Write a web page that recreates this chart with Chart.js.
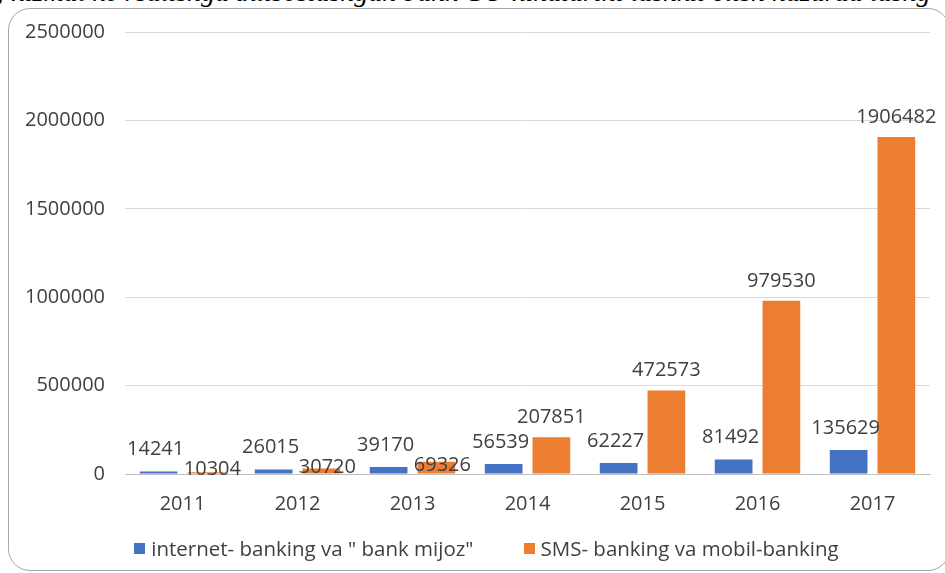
<!DOCTYPE html>
<html>
<head>
<meta charset="utf-8">
<script src="https://cdn.jsdelivr.net/npm/chart.js@4.4.0/dist/chart.umd.min.js"></script>
<style>
  html, body { margin: 0; padding: 0; background: #fff; }
  body { width: 945px; height: 573px; position: relative; overflow: hidden; font-family: "Open Sans", sans-serif; }
  #topline { position: absolute; left: -4px; top: -22px; white-space: nowrap; font: italic 28px/28px "Liberation Serif", serif; color: #000; }
  #frame { position: absolute; left: 8px; top: 8px; width: 940px; height: 561px; border: 1px solid #a6a6a6; border-radius: 22px; }
  #wrap { position: absolute; left: 0; top: 0; width: 945px; height: 573px; }
  #legend { position: absolute; left: 28px; width: 917px; top: 535px; display: flex; justify-content: center; font-size: 20.5px; color: #404040; line-height: 26px; }
  #legend span.item { display: flex; align-items: center; margin: 0 25px; }
  #legend i { display: inline-block; width: 11px; height: 11px; margin-right: 6px; }
</style>
</head>
<body>
<div id="topline">; xizmat ko'rsatishga ixtisoslashgan bank CO-xinalarini tashkil etish hazarda tashg</div>
<div id="frame"></div>
<div id="wrap"><canvas id="canvas1" width="945" height="573"></canvas></div>
<div id="legend"></div>
<script>
var years = ["2011", "2012", "2013", "2014", "2015", "2016", "2017"];
var internetBanking = [14241, 26015, 39170, 56539, 62227, 81492, 135629];
var smsBanking = [10304, 30720, 69326, 207851, 472573, 979530, 1906482];
var seriesNames = ["internet- banking va \" bank mijoz\"", "SMS- banking va mobil-banking"];
var seriesColors = ["#4472C4", "#ED7D31"];

// value labels above the bars, orange ones pushed down when they collide with the blue one
var barLabels = {
  id: 'barLabels',
  afterDatasetsDraw: function(chart) {
    var ctx = chart.ctx;
    var blue = chart.getDatasetMeta(0).data;
    var orange = chart.getDatasetMeta(1).data;
    ctx.save();
    ctx.font = '20px "Open Sans"';
    ctx.fillStyle = '#404040';
    ctx.textAlign = 'center';
    ctx.textBaseline = 'middle';
    for (var i = 0; i < blue.length; i++) {
      var by = blue[i].y - 22;
      ctx.fillText(String(internetBanking[i]), blue[i].x - 3, by);
      var oy = orange[i].y - 20;
      var ox = orange[i].x;
      if (Math.abs(oy - by) < 20) {
        oy = by + 20;
        ox += 6;
      }
      ctx.fillText(String(smsBanking[i]), ox, oy);
    }
    ctx.restore();
  }
};

window.onload = function() {
  var ctx = document.getElementById("canvas1").getContext("2d");
  window.myBar = new Chart(ctx, {
    type: 'bar',
    data: {
      labels: years,
      datasets: [{
        label: seriesNames[0],
        data: internetBanking,
        backgroundColor: seriesColors[0],
        barPercentage: 0.79,
        categoryPercentage: 0.83
      }, {
        label: seriesNames[1],
        data: smsBanking,
        backgroundColor: seriesColors[1],
        barPercentage: 0.79,
        categoryPercentage: 0.83
      }]
    },
    options: {
      responsive: false,
      animation: false,
      layout: { padding: { top: 31, right: 15, bottom: 47, left: 0 } },
      plugins: {
        legend: { display: false },
        tooltip: { enabled: false }
      },
      scales: {
        x: {
          grid: { display: false },
          border: { color: '#bfbfbf' },
          ticks: { color: '#404040', font: { family: 'Open Sans', size: 20 }, padding: 10 }
        },
        y: {
          min: 0,
          max: 2500000,
          afterFit: function(scale) { scale.width = 125; },
          grid: { color: '#d9d9d9', drawTicks: false },
          border: { display: false },
          ticks: {
            stepSize: 500000,
            color: '#404040',
            font: { family: 'Open Sans', size: 20 },
            padding: 20,
            callback: function(value) { return String(value); }
          }
        }
      }
    },
    plugins: [barLabels]
  });

  var legend = document.getElementById('legend');
  for (var i = 0; i < seriesNames.length; i++) {
    var item = document.createElement('span');
    item.className = 'item';
    var box = document.createElement('i');
    box.style.background = seriesColors[i];
    item.appendChild(box);
    item.appendChild(document.createTextNode(seriesNames[i]));
    legend.appendChild(item);
  }
};
</script>
</body>
</html>
